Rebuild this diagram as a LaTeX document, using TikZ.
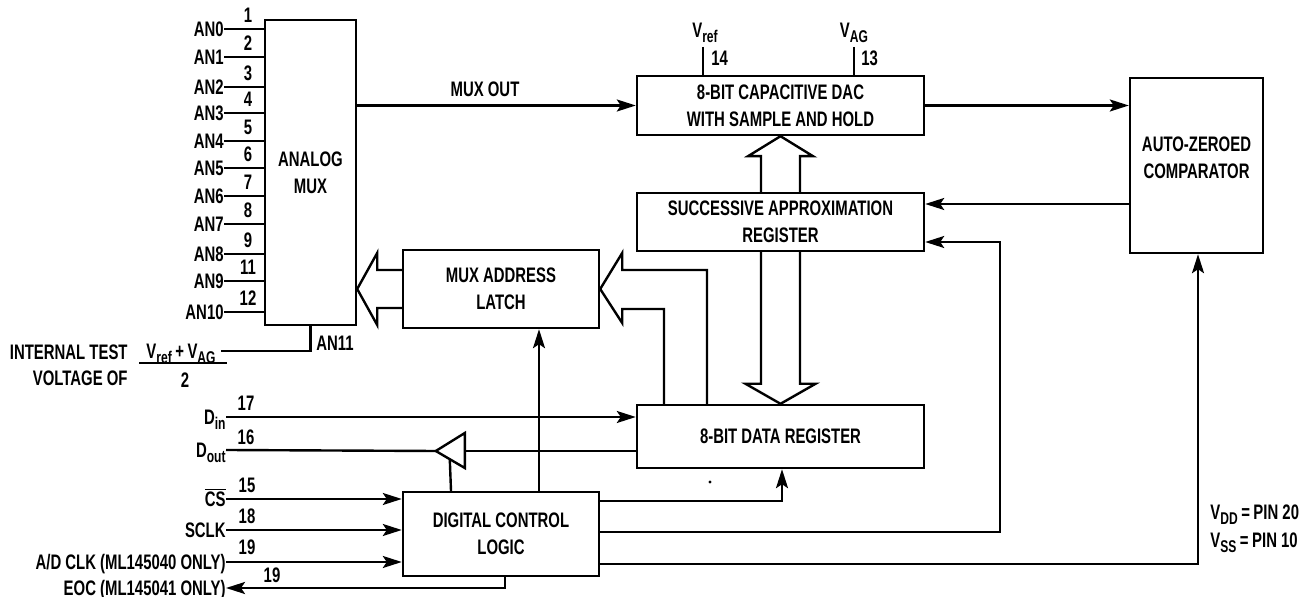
\documentclass[tikz,border=0pt]{standalone}
\usepackage{fontspec}
\usepackage{tikz}
\usetikzlibrary{positioning, arrows.meta, calc}
\newfontfamily\dgfont{Liberation Sans}[FakeStretch=0.71]
\newcommand\pinsub[1]{\raisebox{-0.45ex}{\fontsize{8.5}{9}\selectfont #1}}
\tikzset{
  every node/.style={font=\dgfont\bfseries\fontsize{10.5}{13.5}\selectfont, inner sep=0pt},
  wire/.style={line width=1.2pt},
  blk/.style={draw, line width=1.2pt, align=center},
  pinlbl/.style={anchor=east, text height=7.5pt, text depth=0pt},
  pinnum/.style={text height=7.5pt, text depth=0pt},
  >={Stealth[length=9.5pt,width=6pt,inset=2pt]}
}

\begin{document}
\begin{tikzpicture}[x=0.5pt, y=-0.5pt]
  \useasboundingbox (0,0) rectangle (1316,597);
  % blocks
  \node[blk, minimum width=45.5pt, minimum height=152.5pt] (mux) at (310.5,172.5) {ANALOG\\MUX};
  \node[blk, minimum width=98pt, minimum height=39pt] (latch) at (501,289) {MUX ADDRESS\\LATCH};
  \node[blk, minimum width=143.5pt, minimum height=29.5pt] (dac) at (780.5,105.5) {8-BIT CAPACITIVE DAC\\WITH SAMPLE AND HOLD};
  \node[blk, minimum width=143.5pt, minimum height=29pt] (sar) at (780.5,222) {SUCCESSIVE APPROXIMATION\\REGISTER};
  \node[blk, minimum width=66.5pt, minimum height=87.5pt] (comp) at (1196.5,165.5) {AUTO-ZEROED\\COMPARATOR\\[-5.5pt]\mbox{}};
  \node[blk, minimum width=143.5pt, minimum height=31.5pt] (dreg) at (780.5,436.5) {8-BIT DATA REGISTER};
  \node[blk, minimum width=98pt, minimum height=42pt] (dcl) at (501,534) {DIGITAL CONTROL\\LOGIC};

  % analog inputs
  \foreach \lbl/\pin/\yy in {AN0/1/29, AN1/2/57, AN2/3/87, AN3/4/113, AN4/5/141, AN5/6/168,
                             AN6/7/196, AN7/8/224, AN8/9/254, AN9/11/281, AN10/12/312}{
    \node[pinlbl] (an\pin) at (224,\yy) {\lbl};
    \draw[wire] (an\pin.east) -- (an\pin.east -| mux.west);
    \node[pinnum] at (248,\yy-14) {\pin};
  }
  \node[pinnum] (frac) at (181,351) {V\pinsub{ref}\,+\,V\pinsub{AG}};
  \draw[wire] (139,363) -- (227,363);
  \node[pinnum] (two) at (185,380) {2};
  \node[pinlbl] (itest) at (128,352) {INTERNAL TEST};
  \node[pinlbl] (volt) at (128,378) {VOLTAGE OF};
  \draw[wire] (mux.south) |- ($(frac.east)+(5,0)$);
  \node[anchor=west] (an11) at (316,343) {AN11};

  % analog path
  \draw[wire, ->] (mux.east |- dac.west) -- (dac.west);
  \node (muxout) at (485,89) {MUX OUT};
  \coordinate (vrefpin) at ($(dac.north)+(-77.5,-28)$);
  \coordinate (vagpin) at ($(dac.north)+(73.5,-28)$);
  \draw[wire] (vrefpin) -- (vrefpin |- dac.north);
  \draw[wire] (vagpin) -- (vagpin |- dac.north);
  \node[pinnum] (vref) at (705,30) {V\pinsub{ref}};
  \node[pinnum] (vag) at (854,30) {V\pinsub{AG}};
  \node[pinnum, anchor=west] at (711,58) {14};
  \node[pinnum, anchor=west] at (861,58) {13};
  \draw[wire, ->] (dac.east) -- (dac.east -| comp.west);
  \coordinate (sarin1) at ($(sar.east)+(0,-18)$);
  \coordinate (sarin2) at ($(sar.east)+(0,20)$);
  \draw[wire, ->] (comp.west |- sarin1) -- (sarin1);

  % buses
  \draw[wire] ($(sar.north)+(-19.5,0)$) -- ($(dac.south)+(-19.5,20)$) -- ($(dac.south)+(-32.5,20)$) -- (dac.south)
    -- ($(dac.south)+(32.5,20)$) -- ($(dac.south)+(19.5,20)$) -- ($(sar.north)+(19.5,0)$);
  \draw[wire] ($(sar.south)+(-19.5,0)$) -- ($(dreg.north)+(-19.5,-20)$) -- ($(dreg.north)+(-35,-20)$) -- (dreg.north)
    -- ($(dreg.north)+(35,-20)$) -- ($(dreg.north)+(19.5,-20)$) -- ($(sar.south)+(19.5,0)$);
  \draw[wire] ($(dreg.north)+(-73.5,0)$) |- ($(latch.east)+(22,-19)$) -- ($(latch.east)+(22,-36)$) -- (latch.east)
    -- ($(latch.east)+(22,34)$) -- ($(latch.east)+(22,20)$) -| ($(dreg.north)+(-116.5,0)$);
  \draw[wire] ($(latch.west)+(0,-19)$) -- ($(mux.east |- latch.west)+(20,-19)$) -- ($(mux.east |- latch.west)+(20,-36)$)
    -- (mux.east |- latch.west) -- ($(mux.east |- latch.west)+(20,36)$) -- ($(mux.east |- latch.west)+(20,19)$)
    -- ($(latch.west)+(0,19)$);

  % digital pins
  \node[pinlbl] (din) at (226,417) {D\pinsub{in}};
  \node[pinnum] at (246,403) {17};
  \draw[wire, ->] (din.east) -- (din.east -| dreg.west);
  \node[pinlbl] (dout) at (226,450) {D\pinsub{out}};
  \node[pinnum] at (246,437) {16};
  \coordinate (buf) at ($(dreg.west)+(-200,14.5)$);
  \draw[wire] (buf) -- ++(29,-18) -- ++(0,35) -- cycle;
  \draw[wire] ($(dreg.west)+(0,14.5)$) -- ($(buf)+(29,0)$);
  \draw[wire] (buf) -- (dout.east);
  \draw[wire] ($(dcl.north)+(-50,0)$) -- ($(buf)+(14,8.5)$);
  \node[pinlbl] (cs) at (226,499) {$\overline{\hbox{CS}}$};
  \node[pinnum] at (247,485) {15};
  \node[pinlbl] (sclk) at (226,530) {SCLK};
  \node[pinnum] at (247,516) {18};
  \node[pinlbl] (adclk) at (226,562) {A/D CLK (ML145040 ONLY)};
  \node[pinnum] at (247,547) {19};
  \node[pinlbl] (eoc) at (226,588) {EOC (ML145041 ONLY)};
  \node[pinnum] at (272,575) {19};
  \draw[wire, ->] (cs.east) -- (cs.east -| dcl.west);
  \draw[wire, ->] (sclk.east) -- (sclk.east -| dcl.west);
  \draw[wire, ->] (adclk.east) -- (adclk.east -| dcl.west);
  \draw[wire, ->] ($(dcl.south)+(4,0)$) |- (eoc.east);

  % control outputs
  \draw[wire, ->] ($(dcl.north)+(38,0)$) -- ($(latch.south)+(38,0)$);
  \draw[wire, ->] ($(dcl.north east)+(0,10)$) -| ($(dreg.south)+(1.5,0)$);
  \draw[wire, ->] ($(dcl.east)+(0,-2)$) -| ($(sarin2)+(75,0)$) -- (sarin2);
  \draw[wire, ->] ($(dcl.south east)+(0,-13)$) -| ($(comp.south)+(1.5,0)$);
  \fill (710,482) circle (0.8pt);
  \node[anchor=west] (vdd) at (1210,515) {V\pinsub{DD}\,=\,PIN 20};
  \node[anchor=west] (vss) at (1210,543) {V\pinsub{SS}\,=\,PIN 10};
\end{tikzpicture}
\end{document}
